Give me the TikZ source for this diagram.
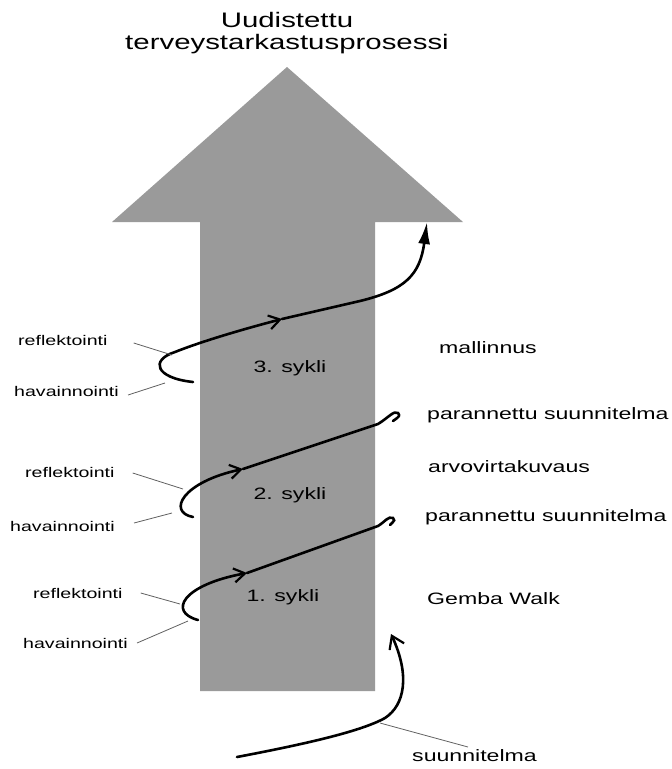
\documentclass[tikz,border=0pt]{standalone}
\usepackage{fontspec}
\setmainfont{Liberation Sans}[FakeStretch=1.4]
\usetikzlibrary{arrows.meta}
\definecolor{shaftgray}{HTML}{9A9A9A}
\definecolor{leadgray}{HTML}{606060}
\tikzset{
  spiral/.style={line width=2.6pt, line cap=round},
  leader/.style={leadgray, line width=0.8pt},
  sidetext/.style={anchor=west, inner sep=0pt, font=\fontsize{14}{16}\selectfont},
  steptext/.style={anchor=west, inner sep=0pt, font=\fontsize{16.5}{19}\selectfont},
  cycletext/.style={inner sep=0pt, font=\fontsize{16.5}{19}\selectfont},
  midtip/.style={-{Straight Barb[length=11pt,width=14pt,line width=2.2pt]}},
}
\begin{document}
\begin{tikzpicture}[x=1pt,y=-1pt]
        \useasboundingbox (0,0) rectangle (672,769);

        % big arrow
        \fill[shaftgray] (200,691) -- (200,222) -- (112,222) -- (287,67) -- (463,222) -- (375,222) -- (375,691) -- cycle;
        \node (title) at (287,33) [align=center, inner sep=0pt, font=\fontsize{21}{22}\selectfont] {Uudistettu\\terveystarkastusprosessi};

        \node (sykli3) at (290,368) [cycletext] {3. sykli};
        \node (sykli2) at (290,495) [cycletext] {2. sykli};
        \node (sykli1) at (283,597) [cycletext] {1. sykli};

        % right side steps
        \node (mallinnus) at (439,348) [steptext] {mallinnus};
        \node (paran2) at (427,415) [steptext] {parannettu suunnitelma};
        \node (arvo) at (428,467) [steptext] {arvovirtakuvaus};
        \node (paran1) at (425,517) [steptext] {parannettu suunnitelma};
        \node (gemba) at (427,599) [steptext] {Gemba Walk};
        \node (suunn) at (412,756) [steptext] {suunnitelma};

        % left side labels
        \node (refl3) at (18,340) [sidetext] {reflektointi};
        \node (hav3) at (14,391) [sidetext] {havainnointi};
        \node (refl2) at (25,472) [sidetext] {reflektointi};
        \node (hav2) at (10,526) [sidetext] {havainnointi};
        \node (refl1) at (33,593) [sidetext] {reflektointi};
        \node (hav1) at (23,643) [sidetext] {havainnointi};

        % points on the spiral
        \coordinate (s0) at (380,723);
        \coordinate (r1) at (180,604);
        \coordinate (h1) at (188,621);
        \coordinate (r2) at (183,489);
        \coordinate (h2) at (172,513);
        \coordinate (r3) at (172,355);
        \coordinate (h3) at (165,383);

        % start
        \draw[spiral, -{Straight Barb[length=12pt,width=16pt,line width=2.2pt]}] (237,757) .. controls (300,745) and (360,732) .. (385,718) .. controls (405,705) and (410,675) .. (391,634);

        % 1. sykli
        \draw[spiral, midtip] (198,620) .. controls (168,612) and (182,585) .. (247,573);
        \draw[spiral] (247,573) -- (378,526) .. controls (386,521) and (388,516) .. (393,518) .. controls (395,520) .. (390,525);

        % 2. sykli
        \draw[spiral, midtip] (193,517) .. controls (167,512) and (182,482) .. (243,469);
        \draw[spiral] (243,469) -- (378,424) .. controls (388,418) and (394,410) .. (398,413) .. controls (400,416) .. (393,421);

        % 3. sykli
        \draw[spiral, midtip] (193,382) .. controls (155,378) and (150,360) .. (175,352) .. controls (200,342) and (240,330) .. (282,319);
        \draw[spiral, -{Latex[length=22pt,width=12pt]}] (282,319) -- (360,301) .. controls (405,290) and (420,275) .. (427,222);

        % leaders
        \draw[leader] (refl3.east) ++(26,3) -- (r3);
        \draw[leader] (hav3.east) ++(9,4) -- (h3);
        \draw[leader] (refl2.east) ++(18,1) -- (r2);
        \draw[leader] (hav2.east) ++(19,-3) -- (h2);
        \draw[leader] (refl1.east) ++(18,0) -- (r1);
        \draw[leader] (hav1.east) ++(9,0) -- (h1);
        \draw[leader] (s0) -- (468,747);
    \end{tikzpicture}
\end{document}
